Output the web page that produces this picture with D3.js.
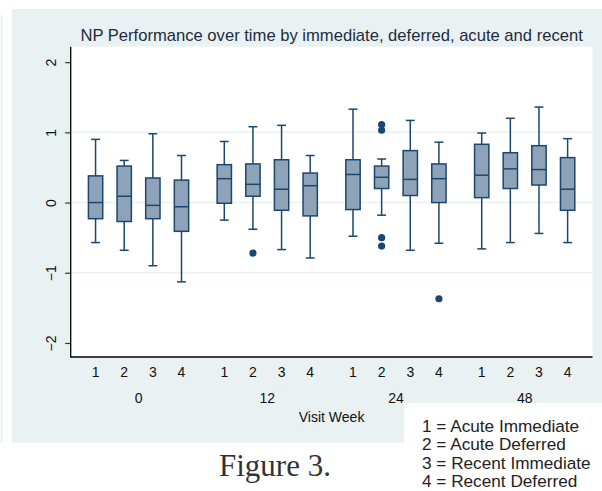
<!DOCTYPE html>
<html>
<head>
<meta charset="utf-8">
<script src="https://cdn.jsdelivr.net/npm/d3@7"></script>
<style>
  body { margin: 0; background: #fff; }
  svg text { font-family: Arial, "Liberation Sans", sans-serif; }
</style>
</head>
<body>
<script>
// box plot of NP performance by visit week and group

const weeks = ['0', '12', '24', '48'];
const groups = ['1', '2', '3', '4'];

// per week, one value per group (1..4)
const whiskerLow = [
  [-0.57, -0.68, -0.90, -1.13],
  [-0.25, -0.38, -0.67, -0.79],
  [-0.48, -0.18, -0.68, -0.58],
  [-0.66, -0.57, -0.44, -0.57]
];
const q1 = [
  [-0.23, -0.27, -0.23, -0.41],
  [-0.01, 0.09, -0.11, -0.19],
  [-0.10, 0.20, 0.10, 0.00],
  [0.07, 0.20, 0.25, -0.11]
];
const median = [
  [0.00, 0.09, -0.04, -0.06],
  [0.34, 0.26, 0.19, 0.24],
  [0.40, 0.36, 0.33, 0.34],
  [0.39, 0.48, 0.47, 0.19]
];
const q3 = [
  [0.38, 0.52, 0.35, 0.32],
  [0.54, 0.55, 0.61, 0.42],
  [0.61, 0.52, 0.74, 0.55],
  [0.83, 0.71, 0.81, 0.64]
];
const whiskerHigh = [
  [0.90, 0.60, 0.98, 0.67],
  [0.87, 1.08, 1.10, 0.67],
  [1.33, 0.62, 1.17, 0.86],
  [0.99, 1.20, 1.36, 0.91]
];
// outliers: [week, group, value]
const outliers = [
  ['12', '2', -0.72],
  ['24', '2', 1.11],
  ['24', '2', 1.03],
  ['24', '2', -0.50],
  ['24', '2', -0.62],
  ['24', '4', -1.37]
];
const yTicks = [-2, -1, 0, 1, 2];
const gridTicks = [-1, 0, 1];
const legendLines = ['1 = Acute Immediate', '2 = Acute Deferred', '3 = Recent Immediate', '4 = Recent Deferred'];

const W = 602, H = 491;
const plot = { left: 70.7, right: 592.5, top: 46.7, bottom: 357 };
const navy = '#1a476f';

const svg = d3.select('body').append('svg')
  .attr('width', W)
  .attr('height', H);

// outer graph region
svg.append('line')
  .attr('x1', 1.5).attr('x2', 1.5).attr('y1', 15).attr('y2', 443)
  .attr('stroke', '#e3ecef').attr('stroke-width', 1.5);
svg.append('rect')
  .attr('x', 12).attr('y', 9)
  .attr('width', W - 12).attr('height', 443 - 9)
  .attr('fill', '#eaf1f3');
svg.append('rect')
  .attr('x', plot.left).attr('y', plot.top)
  .attr('width', plot.right - plot.left).attr('height', plot.bottom - plot.top)
  .attr('fill', '#fff');

const y = d3.scaleLinear()
  .domain([-2.2, 2.22])
  .range([plot.bottom, plot.top]);

const xWeek = d3.scaleBand()
  .domain(weeks)
  .range([plot.left, plot.right])
  .paddingInner(0.11)
  .paddingOuter(0.082);

const xGroup = d3.scaleBand()
  .domain(groups)
  .range([0, xWeek.bandwidth()])
  .paddingInner(0.5)
  .paddingOuter(0.25);

// grid lines
svg.append('g').selectAll('line')
  .data(gridTicks)
  .join('line')
  .attr('x1', plot.left).attr('x2', plot.right)
  .attr('y1', d => y(d)).attr('y2', d => y(d))
  .attr('stroke', '#eaf1f3').attr('stroke-width', 1.5);

// boxes
const boxes = [];
weeks.forEach((w, i) => {
  groups.forEach((g, j) => {
    boxes.push({
      week: w, group: g,
      lo: whiskerLow[i][j], q1: q1[i][j], med: median[i][j],
      q3: q3[i][j], hi: whiskerHigh[i][j]
    });
  });
});

const bw = xGroup.bandwidth();
const capW = bw * 0.62;

const box = svg.append('g').selectAll('g')
  .data(boxes)
  .join('g')
  .attr('transform', d => `translate(${xWeek(d.week) + xGroup(d.group)},0)`);

box.append('line')
  .attr('x1', bw / 2).attr('x2', bw / 2)
  .attr('y1', d => y(d.hi)).attr('y2', d => y(d.q3))
  .attr('stroke', navy).attr('stroke-width', 1.5);
box.append('line')
  .attr('x1', bw / 2).attr('x2', bw / 2)
  .attr('y1', d => y(d.q1)).attr('y2', d => y(d.lo))
  .attr('stroke', navy).attr('stroke-width', 1.5);
box.append('line')
  .attr('x1', (bw - capW) / 2).attr('x2', (bw + capW) / 2)
  .attr('y1', d => y(d.hi)).attr('y2', d => y(d.hi))
  .attr('stroke', navy).attr('stroke-width', 1.5);
box.append('line')
  .attr('x1', (bw - capW) / 2).attr('x2', (bw + capW) / 2)
  .attr('y1', d => y(d.lo)).attr('y2', d => y(d.lo))
  .attr('stroke', navy).attr('stroke-width', 1.5);
box.append('rect')
  .attr('x', 0).attr('width', bw)
  .attr('y', d => y(d.q3))
  .attr('height', d => y(d.q1) - y(d.q3))
  .attr('fill', '#8ea3b8')
  .attr('stroke', navy).attr('stroke-width', 1.5);
box.append('line')
  .attr('x1', 0).attr('x2', bw)
  .attr('y1', d => y(d.med)).attr('y2', d => y(d.med))
  .attr('stroke', navy).attr('stroke-width', 1.5);

svg.append('g').selectAll('circle')
  .data(outliers)
  .join('circle')
  .attr('cx', d => xWeek(d[0]) + xGroup(d[1]) + bw / 2)
  .attr('cy', d => y(d[2]))
  .attr('r', 3.6)
  .attr('fill', navy);

// y axis
const yAxis = svg.append('g')
  .attr('transform', `translate(${plot.left},0)`)
  .call(d3.axisLeft(y).tickValues(yTicks).tickSize(5.5).tickFormat(d3.format('d')));
yAxis.select('.domain').remove();
yAxis.selectAll('.tick line').attr('stroke', '#333').attr('stroke-width', 1.2);
yAxis.selectAll('.tick text')
  .attr('x', null).attr('dy', null)
  .attr('transform', 'translate(-20,0) rotate(-90)')
  .attr('text-anchor', 'middle')
  .attr('dy', '0.35em')
  .style('font-size', '14px')
  .attr('fill', '#111');

svg.append('line')
  .attr('x1', plot.left).attr('x2', plot.left)
  .attr('y1', plot.top).attr('y2', plot.bottom + 0.5)
  .attr('stroke', '#000').attr('stroke-width', 1.3);
svg.append('line')
  .attr('x1', plot.left).attr('x2', plot.right)
  .attr('y1', plot.bottom).attr('y2', plot.bottom)
  .attr('stroke', '#000').attr('stroke-width', 1.3);

// x labels
const xl = svg.append('g');
weeks.forEach(w => {
  xl.selectAll(null)
    .data(groups)
    .join('text')
    .attr('x', g => xWeek(w) + xGroup(g) + bw / 2)
    .attr('y', 377)
    .attr('text-anchor', 'middle')
    .style('font-size', '14px')
    .attr('fill', '#111')
    .text(g => g);
});
xl.selectAll('.week')
  .data(weeks)
  .join('text')
  .attr('class', 'week')
  .attr('x', w => xWeek(w) + xWeek.bandwidth() / 2)
  .attr('y', 402.5)
  .attr('text-anchor', 'middle')
  .style('font-size', '14px')
  .attr('fill', '#111')
  .text(w => w);

svg.append('text')
  .attr('x', (plot.left + plot.right) / 2)
  .attr('y', 421.5)
  .attr('text-anchor', 'middle')
  .style('font-size', '14px')
  .attr('fill', '#111')
  .text('Visit Week');

// title
svg.append('text')
  .attr('x', (plot.left + plot.right) / 2)
  .attr('y', 40.5)
  .attr('text-anchor', 'middle')
  .style('font-size', '16.6px')
  .attr('fill', '#1c2c3e')
  .text('NP Performance over time by immediate, deferred, acute and recent');

// legend box and caption
svg.append('rect')
  .attr('x', 404).attr('y', 403)
  .attr('width', W - 404).attr('height', H - 403)
  .attr('fill', '#fff');
svg.append('g').selectAll('text')
  .data(legendLines)
  .join('text')
  .attr('x', 422)
  .attr('y', (d, i) => 432 + i * 18.4)
  .style('font-size', '17.2px')
  .attr('fill', '#222')
  .text(d => d);

svg.append('text')
  .attr('x', 219)
  .attr('y', 476)
  .style('font-family', '"Liberation Serif", "Times New Roman", serif')
  .style('font-size', '31px')
  .attr('fill', '#333')
  .text('Figure 3.');
</script>
</body>
</html>
